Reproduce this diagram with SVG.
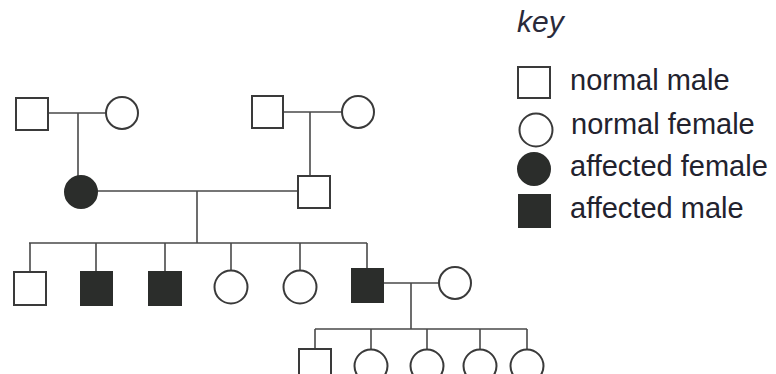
<svg xmlns="http://www.w3.org/2000/svg" width="776" height="374" viewBox="0 0 776 374">
<style>
.n{fill:#fff;stroke:#3a3a3a;stroke-width:2}
.a{fill:#2b2d2b;stroke:#2b2d2b;stroke-width:2}
.c{stroke:#4a4a4a;stroke-width:1.6;fill:none}
.t{font-family:"Liberation Sans",Arial,sans-serif;font-size:29px;fill:#22222e}
.k{font-family:"Liberation Sans",Arial,sans-serif;font-size:30px;font-style:italic;fill:#2a2a3a}
</style>
<rect width="776" height="374" fill="#fff"/>
<g id="connectors" class="c">
<path d="M48 113H106M78 113V176"/>
<path d="M283 112H342M310 112V176"/>
<path d="M97 191H298M197 191V243"/>
<path d="M29 243H367M30 243V272M96 243V272M165 243V272M231 243V271M300 243V271M367 243V269"/>
<path d="M383 283H439M411 283V329"/>
<path d="M315 329H527M315 329V349M371 329V350M427 329V350M480 329V350M527 329V350"/>
</g>
<g id="g1_m1"><rect class="n" x="16" y="98" width="32" height="32"/></g>
<g id="g1_f1"><circle class="n" cx="122" cy="113" r="16"/></g>
<g id="g1_m2"><rect class="n" x="252" y="96" width="31" height="32"/></g>
<g id="g1_f2"><circle class="n" cx="358" cy="112" r="16"/></g>
<g id="g2_f"><circle class="a" cx="81" cy="192" r="16"/></g>
<g id="g2_m"><rect class="n" x="298" y="176" width="32" height="32"/></g>
<g id="g3_1"><rect class="n" x="14" y="272" width="32" height="33"/></g>
<g id="g3_2"><rect class="a" x="81" y="272" width="31" height="33"/></g>
<g id="g3_3"><rect class="a" x="149" y="272" width="32" height="33"/></g>
<g id="g3_4"><circle class="n" cx="231" cy="287" r="16.5"/></g>
<g id="g3_5"><circle class="n" cx="300" cy="287" r="16.5"/></g>
<g id="g3_6"><rect class="a" x="352" y="269" width="31" height="33"/></g>
<g id="g3_sp"><circle class="n" cx="455" cy="283" r="16"/></g>
<g id="g4_1"><rect class="n" x="299" y="349" width="32" height="33"/></g>
<g id="g4_2"><circle class="n" cx="371" cy="366" r="16.5"/></g>
<g id="g4_3"><circle class="n" cx="427" cy="366" r="16.5"/></g>
<g id="g4_4"><circle class="n" cx="480" cy="366" r="16.5"/></g>
<g id="g4_5"><circle class="n" cx="527" cy="366" r="16.5"/></g>
<g id="key">
<text class="k" x="517" y="32">key</text>
<rect class="n" x="518" y="67" width="32" height="31"/>
<text class="t" x="570" y="90">normal male</text>
<circle class="n" cx="536" cy="130" r="16.5"/>
<text class="t" x="571" y="134">normal female</text>
<circle class="a" cx="534" cy="169" r="16"/>
<text class="t" x="570" y="176">affected female</text>
<rect class="a" x="519" y="195" width="31" height="32"/>
<text class="t" x="570" y="218">affected male</text>
</g>
</svg>
